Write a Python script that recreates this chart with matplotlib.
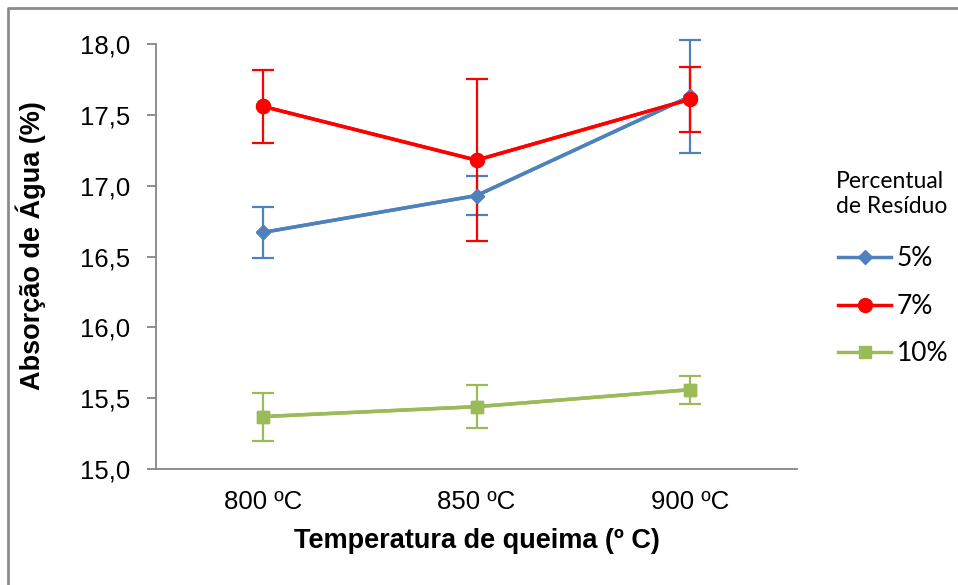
import numpy as np
import matplotlib.pyplot as plt
from matplotlib.lines import Line2D

# ---- data ----
temps = ['800 ºC', '850 ºC', '900 ºC']
series_names = ['5%', '7%', '10%']
abs_5 = [16.67, 16.93, 17.63]
err_5 = [0.18, 0.14, 0.40]
abs_7 = [17.56, 17.18, 17.61]
err_7 = [0.26, 0.57, 0.23]
abs_10 = [15.37, 15.44, 15.56]
err_10 = [0.17, 0.15, 0.10]
y_ticks = [15.0, 15.5, 16.0, 16.5, 17.0, 17.5, 18.0]

colors = ['#4F81BD', '#FF0000', '#9BBB59']
markers = ['D', 'o', 's']
msizes = [7, 10, 8.5]

W, H = 958, 585
fig = plt.figure(figsize=(W / 100, H / 100), dpi=100)
ax = fig.add_axes([156 / W, 1 - 469 / H, (797 - 156) / W, (469 - 44) / H])

x = np.arange(len(temps))
for vals, errs, c, m, ms in zip([abs_5, abs_7, abs_10], [err_5, err_7, err_10], colors, markers, msizes):
    ax.errorbar(x, vals, yerr=errs, color=c, lw=2.5, marker=m, markersize=ms,
                ecolor=c, elinewidth=1.6, capsize=8, capthick=1.6, clip_on=False, zorder=3)
# redraw lines on top of error bars
for vals, c, m, ms in zip([abs_5, abs_7, abs_10], colors, markers, msizes):
    ax.plot(x, vals, color=c, lw=2.5, marker=m, markersize=ms, clip_on=False, zorder=4)

ax.set_xlim(-0.5, 2.5)
ax.set_ylim(15.0, 18.0)
ax.set_yticks(y_ticks)
ax.set_yticklabels([f'{v:.1f}'.replace('.', ',') for v in y_ticks])
ax.set_xticks(x)
ax.set_xticklabels(temps)

font = 'Liberation Sans'
for lab in ax.get_xticklabels() + ax.get_yticklabels():
    lab.set_fontfamily(font)
    lab.set_fontsize(18.5)
ax.tick_params(axis='y', direction='out', length=6.5, width=1.3, color='#868686', pad=12)
ax.tick_params(axis='x', length=0, pad=15)

for side in ['top', 'right']:
    ax.spines[side].set_visible(False)
for side in ['left', 'bottom']:
    ax.spines[side].set_color('#868686')
    ax.spines[side].set_linewidth(1.3)
ax.spines['bottom'].set_bounds(-0.5, 2.5)

fig.text(477 / W, 1 - 541 / H, 'Temperatura de queima (º C)', fontfamily=font, fontsize=19.5,
         fontweight='bold', ha='center', va='center')
fig.text(31 / W, 1 - 246 / H, 'Absorção de Água (%)', fontfamily=font, fontsize=19.5,
         fontweight='bold', ha='center', va='center', rotation=90)

# legend title (left aligned, as in the original)
fig.text(836 / W, 1 - 194 / H, 'Percentual\nde Resíduo', fontfamily='Lato', fontsize=16.5,
         ha='left', va='center', linespacing=1.25)

handles = [Line2D([], [], color=c, lw=2.5, marker=m, markersize=ms)
           for c, m, ms in zip(colors, markers, msizes)]
leg = fig.legend(handles, series_names, loc='upper left', bbox_to_anchor=(820 / W, 1 - 228 / H),
                 frameon=False, prop={'family': 'Lato', 'size': 19},
                 handlelength=2.0, handletextpad=0.2, labelspacing=0.85, borderpad=0.2)

# chart frame (top and left edges visible)
fig.add_artist(Line2D([8 / W, 8 / W, 1], [0, 1 - 8 / H, 1 - 8 / H], color='#8C8C8C', lw=2,
                      transform=fig.transFigure))

fig.savefig('out.png', dpi=100)
